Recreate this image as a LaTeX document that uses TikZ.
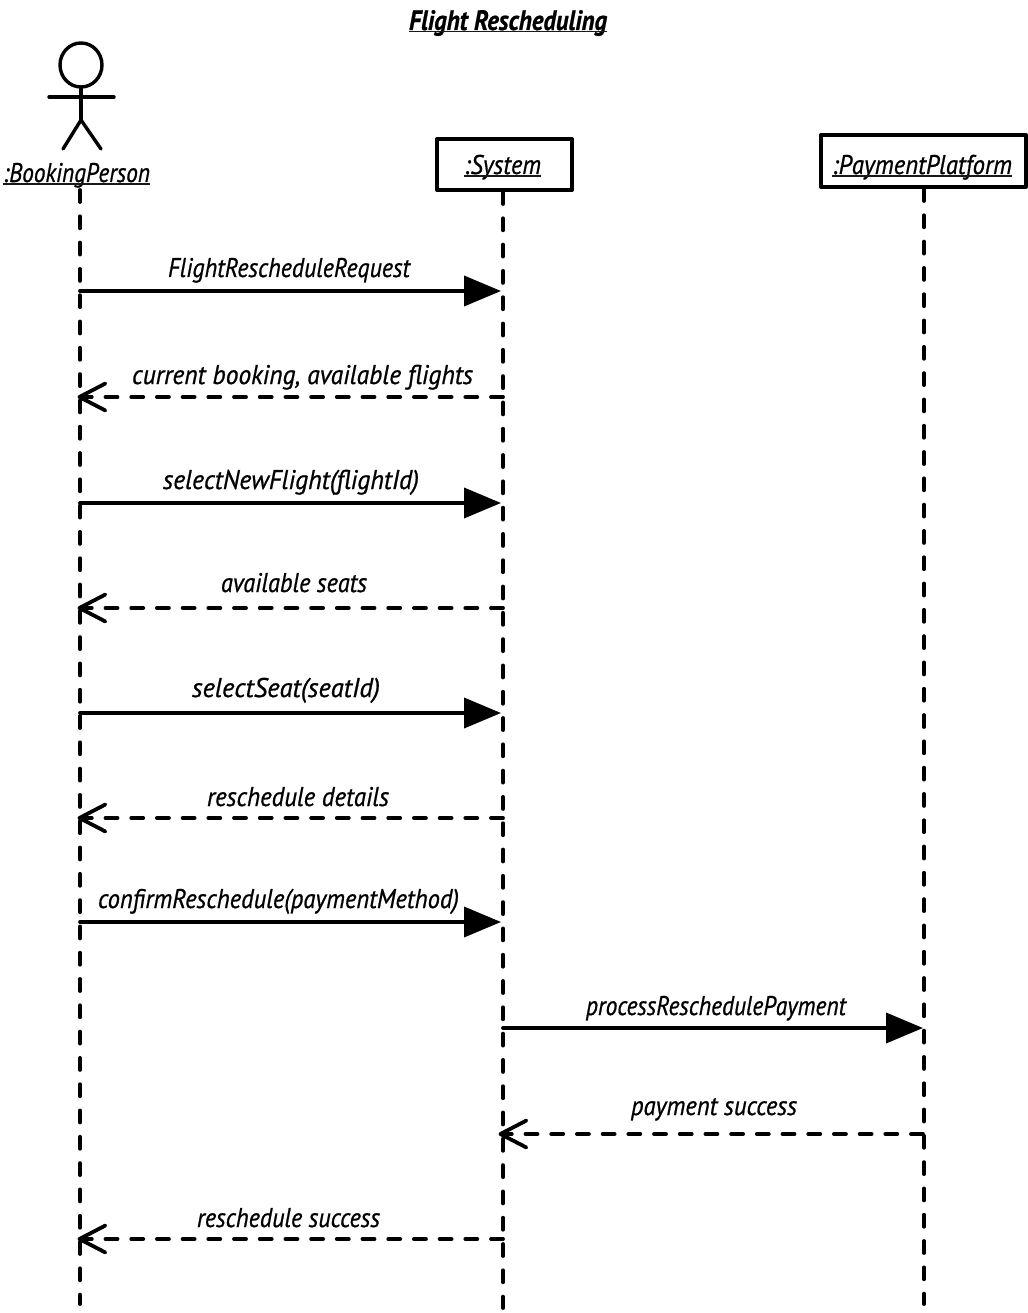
\documentclass[tikz,border=0pt]{standalone}
\usepackage{graphicx}
\usepackage{fontspec}
\setmainfont{PT Sans}[ItalicFeatures={FakeBold=0.8},BoldItalicFeatures={FakeBold=0.8}]
\usetikzlibrary{arrows.meta,shapes.geometric}
\newcommand{\fitw}[2]{\resizebox{#1pt}{\height}{#2}}
\tikzset{
  lbl/.style={anchor=base,inner sep=0pt,font=\itshape\fontsize{27}{27}\selectfont,text=black},
  ttl/.style={anchor=base,inner sep=0pt,font=\bfseries\itshape\fontsize{28}{28}\selectfont,text=black},
  uline/.style={line width=1.4pt,draw=black!90},
  lifeline/.style={line width=3.8pt,line cap=round,dash pattern=on 12pt off 14.3pt},
  objbox/.style={draw,line width=4pt,fill=white,inner sep=0pt,line join=round},
  call/.style={line width=3.8pt,line cap=round,-{Triangle[length=37pt,width=30pt]}},
  reply/.style={line width=3.8pt,line cap=round,dash pattern=on 12pt off 13.7pt,-{Straight Barb[length=26pt,width=27pt,round]}},
  stick/.style={line width=3.4pt,line cap=round}
}
\begin{document}
\begin{tikzpicture}[x=1pt,y=-1pt]
\useasboundingbox[fill=white] (0,0) rectangle (1027,1313);
% title
\node[ttl] (title) at (508,30) {\fitw{198}{Flight  Rescheduling}};
\draw[uline] (409,31.5) -- (607,31.5);
% actor
\node[draw,line width=3.4pt,ellipse,minimum width=42pt,minimum height=44pt,inner sep=0pt] (head) at (81,65) {};
\coordinate (hip) at (81,120);
\coordinate (armL) at (49,97);
\coordinate (armR) at (114,97);
\coordinate (legL) at (63,149);
\coordinate (legR) at (101,149);
\draw[stick] (head.south) -- (hip);
\draw[stick] (armL) -- (armR);
\draw[stick] (legL) -- (hip) -- (legR);
\node[lbl] (booking) at (76.5,182) {\fitw{147}{:BookingPerson}};
\draw[uline] (3,184) -- (150,184);
% object boxes
\node[objbox,minimum width=135pt,minimum height=51pt] (system) at (504.5,164.5) {};
\node[lbl] (systemT) at (502.5,174) {\fitw{77}{:System}};
\draw[uline] (464,176) -- (541,176);
\node[objbox,minimum width=205pt,minimum height=52pt] (platform) at (923.5,161) {};
\node[lbl] (platformT) at (922,174) {\fitw{180}{:PaymentPlatform}};
\draw[uline] (832,176) -- (1012,176);
% lifeline anchors
\coordinate (Atop) at (80,190);
\coordinate (Stop) at (503,192);
\coordinate (Ptop) at (924,189);
\coordinate (Abot) at (80,1304);
\coordinate (Sbot) at (503,1308);
\coordinate (Pbot) at (924,1304);
\draw[lifeline] (Atop) -- (Abot);
\draw[lifeline] (Stop) -- (Sbot);
\draw[lifeline] (Ptop) -- (Pbot);
% message end points
\foreach \n/\y in {1/291,2/397,3/503,4/608,5/713,6/818,7/922,8/1028,9/1134,10/1239}{
  \coordinate (A\n) at (80,\y);
  \coordinate (R\n) at (77.5,\y);
  \coordinate (S\n) at (503,\y);
  \coordinate (Q\n) at (498.5,\y);
  \coordinate (T\n) at (501,\y);
  \coordinate (P\n) at (923,\y);
}
% messages
\draw[call] (A1) -- (T1);
\node[lbl] (m1) at (289,277) {\fitw{242}{FlightRescheduleRequest}};
\draw[reply] (S2) -- (R2);
\node[lbl] (m2) at (302.5,384) {\fitw{341}{current  booking,  available  flights}};
\draw[call] (A3) -- (T3);
\node[lbl] (m3) at (291,489) {\fitw{256}{selectNewFlight(flightId)}};
\draw[reply] (S4) -- (R4);
\node[lbl] (m4) at (294,592) {\fitw{146}{available  seats}};
\draw[call] (A5) -- (T5);
\node[lbl] (m5) at (286,697) {\fitw{188}{selectSeat(seatId)}};
\draw[reply] (S6) -- (R6);
\node[lbl] (m6) at (298,806) {\fitw{182}{reschedule  details}};
\draw[call] (A7) -- (T7);
\node[lbl] (m7) at (278.5,908) {\fitw{361}{confirmReschedule(paymentMethod)}};
\draw[call] (S8) -- (P8);
\node[lbl] (m8) at (716,1015) {\fitw{260}{processReschedulePayment}};
\draw[reply] (P9) -- (Q9);
\node[lbl] (m9) at (714,1115) {\fitw{166}{payment  success}};
\draw[reply] (S10) -- (R10);
\node[lbl] (m10) at (288.5,1227) {\fitw{183}{reschedule  success}};
\end{tikzpicture}
\end{document}
